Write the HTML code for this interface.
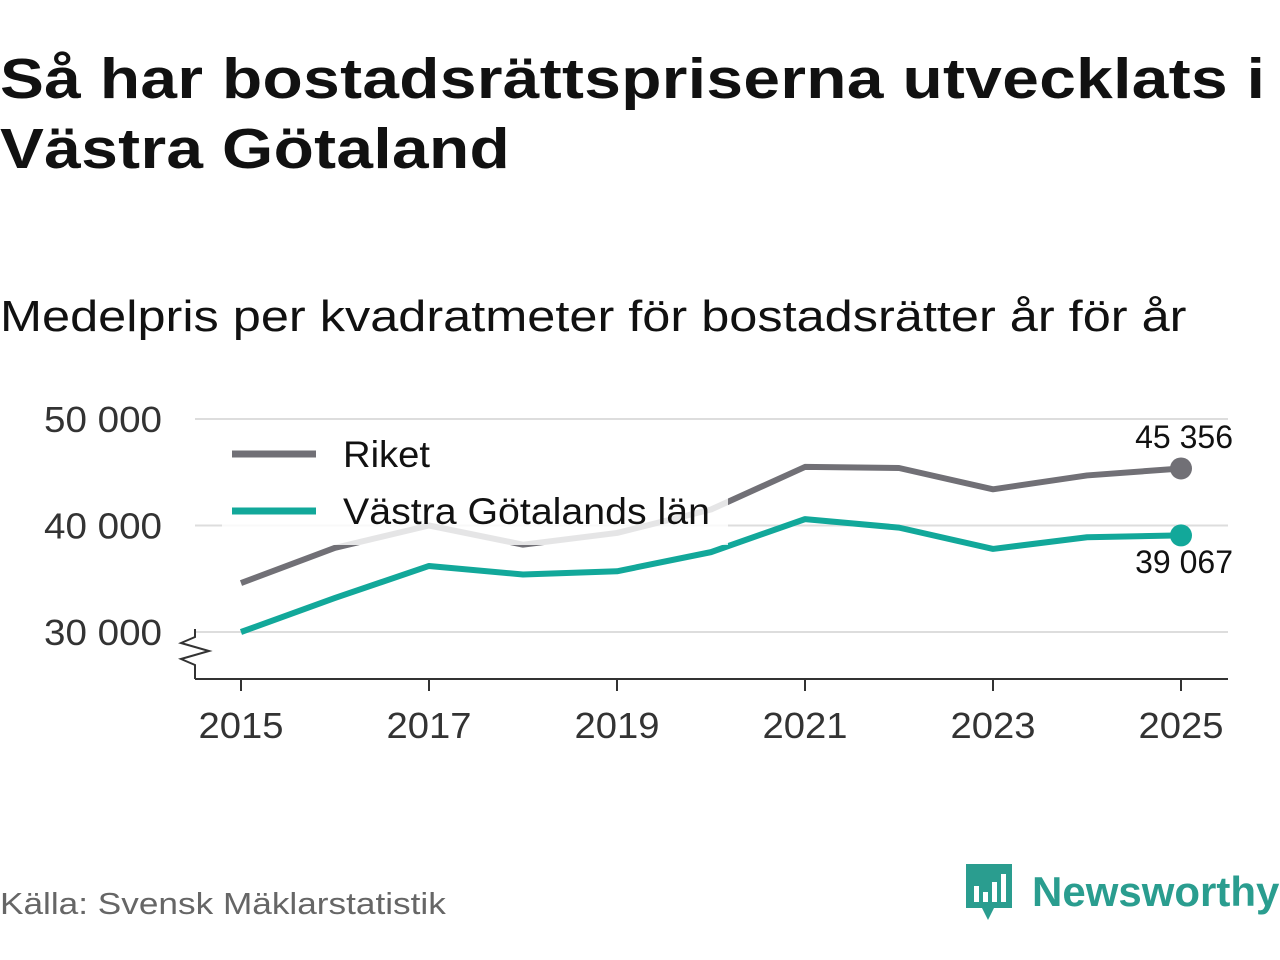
<!DOCTYPE html>
<html><head><meta charset="utf-8"><style>
body{margin:0;width:1280px;height:960px;background:#fff;font-family:"Liberation Sans",sans-serif;overflow:hidden;position:relative}
h1{position:absolute;left:0;top:44px;margin:0;font-size:57px;line-height:70px;font-weight:bold;color:#111;letter-spacing:0.3px;transform:scaleX(1.155);transform-origin:0 0;white-space:nowrap}
.sub{position:absolute;left:0;top:292px;font-size:44px;color:#111;transform:scaleX(1.147);transform-origin:0 0;white-space:nowrap}
.src{position:absolute;left:0;top:886px;font-size:31px;color:#666;transform:scaleX(1.135);transform-origin:0 0;white-space:nowrap}
.logo{position:absolute;left:964px;top:862px;display:flex;align-items:center}
.logo span{font-size:42px;color:#2a9d8f;font-weight:bold;margin-left:18px}
</style></head><body>
<h1>Så har bostadsrättspriserna utvecklats i<br>Västra Götaland</h1>
<div class="sub">Medelpris per kvadratmeter för bostadsrätter år för år</div>
<svg id="chart" width="1280" height="960" style="position:absolute;left:0;top:0"></svg>
<div class="src">Källa: Svensk Mäklarstatistik</div>
<div class="logo">
<svg width="50" height="60" viewBox="0 0 50 60"><path d="M2 2h46v44H30l-6 12-6-12H2z" fill="#2a9d8f"/><rect x="10" y="24" width="5" height="16" fill="#fff"/><rect x="19" y="30" width="5" height="10" fill="#fff"/><rect x="28" y="20" width="5" height="20" fill="#fff"/><rect x="37" y="12" width="5" height="28" fill="#fff"/></svg>
<span>Newsworthy</span></div>
<script>
const years=[2015,2016,2017,2018,2019,2020,2021,2022,2023,2024,2025];
const riket=[34600,37900,40000,38200,39300,41500,45500,45400,43400,44700,45356];
const vg=[30000,33200,36200,35400,35700,37500,40600,39800,37800,38900,39067];
const yTicks=[30000,40000,50000];
const xTicks=[2015,2017,2019,2021,2023,2025];
const NS="http://www.w3.org/2000/svg";
const svg=document.getElementById('chart');
const x=v=>241+(v-2015)*94;
const y=v=>632-(v-30000)*0.01065;
function el(t,a,p){const e=document.createElementNS(NS,t);for(const k in a)e.setAttribute(k,a[k]);(p||svg).appendChild(e);return e;}
const fmt=v=>String(v).replace(/\B(?=(\d{3})+(?!\d))/g,' ');
yTicks.forEach(t=>{
 const g=el('line',{x1:195,x2:1228,y1:y(t),y2:y(t),stroke:'#ddd','stroke-width':2});
 
 const tx=el('text',{x:162,y:y(t)+13,'text-anchor':'end','font-size':36,fill:'#333',textLength:118,lengthAdjust:'spacingAndGlyphs'});tx.textContent=fmt(t);
 
});
const ax=el('line',{x1:195,x2:1228,y1:679,y2:679,stroke:'#333','stroke-width':2});

el('path',{d:'M195 679V665l-14-6 28-8-28-8 14-6v-8',fill:'none',stroke:'#333','stroke-width':2});
xTicks.forEach(t=>{
 el('line',{x1:x(t),x2:x(t),y1:679,y2:691,stroke:'#333','stroke-width':2});
 const tx=el('text',{x:x(t),y:738,'text-anchor':'middle','font-size':36,fill:'#333',textLength:85,lengthAdjust:'spacingAndGlyphs'});tx.textContent=t;
 
});
function series(vals,color,name){
 const d=vals.map((v,i)=>(i?'L':'M')+x(years[i])+' '+y(v)).join(' ');
 const p=el('path',{d:d,fill:'none',stroke:color,'stroke-width':6,'stroke-linejoin':'round'});
 
 const c=el('circle',{cx:x(years[years.length-1]),cy:y(vals[vals.length-1]),r:11,fill:color});
 
}
series(riket,'#717076','riket');
series(vg,'#12a89a','vastra-gotaland');
const lb=el('rect',{x:222,y:420,width:506,height:125,fill:'#fff',opacity:0.82});

[['Riket','#717076',454,87],['Västra Götalands län','#12a89a',511,367]].forEach(l=>{
 const g=el('g',{});
 el('line',{x1:232,x2:316,y1:l[2],y2:l[2],stroke:l[1],'stroke-width':7},g);
 const t=el('text',{x:343,y:l[2]+13,'font-size':37,fill:'#111',textLength:l[3],lengthAdjust:'spacingAndGlyphs'},g);t.textContent=l[0];
});
const lab1=el('text',{x:1233,y:448,'text-anchor':'end','font-size':32,fill:'#111',stroke:'#fff','stroke-width':6,'paint-order':'stroke'});
lab1.textContent=fmt(riket[riket.length-1]);
const lab2=el('text',{x:1233,y:573,'text-anchor':'end','font-size':32,fill:'#111',stroke:'#fff','stroke-width':6,'paint-order':'stroke'});
lab2.textContent=fmt(vg[vg.length-1]);
</script>
</body></html>
